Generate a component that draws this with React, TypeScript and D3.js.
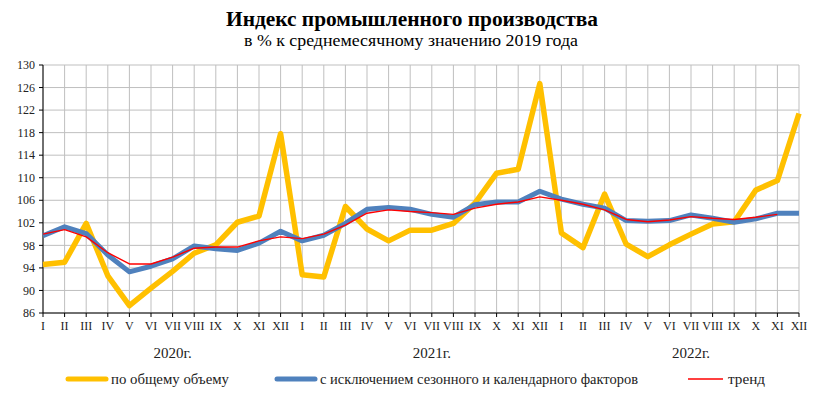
import React from "react";
import * as d3 from "d3";

const months = ["I","II","III","IV","V","VI","VII","VIII","IX","X","XI","XII"];
const years = ["2020г.", "2021г.", "2022г."];
const yTicks = [86, 90, 94, 98, 102, 106, 110, 114, 118, 122, 126, 130];

const totalVolume = [
  94.6, 95.0, 101.9, 92.6, 87.3, 90.4, 93.4, 96.6, 98.1, 102.1, 103.2, 117.8,
  92.8, 92.4, 104.9, 100.9, 98.8, 100.7, 100.7, 101.9, 105.5, 110.8, 111.5, 126.7,
  100.2, 97.6, 107.1, 98.2, 96.0, 98.1, 100.0, 101.8, 102.2, 107.8, 109.5, 121.4,
];
const seasonallyAdjusted = [
  99.7, 101.3, 100.1, 96.3, 93.3, 94.3, 95.6, 97.9, 97.4, 97.1, 98.4, 100.5,
  98.8, 99.8, 101.9, 104.4, 104.7, 104.4, 103.5, 103.0, 105.2, 105.7, 105.7, 107.6,
  106.2, 105.3, 104.6, 102.4, 102.3, 102.4, 103.4, 102.8, 102.1, 102.7, 103.7, 103.7,
];
const trend = [
  100.0, 100.8, 99.5, 96.7, 94.7, 94.7, 95.9, 97.5, 97.7, 97.7, 98.8, 99.5,
  99.2, 100.0, 101.6, 103.7, 104.3, 104.0, 103.8, 103.5, 104.6, 105.3, 105.7, 106.6,
  106.0, 105.3, 104.3, 102.6, 102.2, 102.5, 103.1, 102.8, 102.6, 103.0, 103.5,
];

const seriesLegend = [
  { label: "по общему объему", color: "#FFC000", width: 5 },
  { label: "с исключением сезонного и календарного факторов", color: "#4F81BD", width: 5 },
  { label: "тренд", color: "#FF0000", width: 1.5 },
];

const FONT = "'Liberation Serif', 'Times New Roman', serif";

export default function App() {
  const W = 822, H = 397;
  const left = 43, right = 799, top = 65, bottom = 313;
  const n = months.length * years.length;
  const idx = d3.range(n);
  const x = d3.scaleLinear().domain([0, n - 1]).range([left, right]);
  const y = d3.scaleLinear().domain([86, 130]).range([bottom, top]);
  const line = d3.line<number>().x((_, i) => x(i)).y((d) => y(d));

  const gridColor = "#BFBFBF";
  const legendX = [68, 277, 688];
  const legendLen = [38, 38, 35];
  const legendTextLen = [118, 318, 37];
  const legendY = 379;

  return (
    <svg width={W} height={H} style={{ position: "absolute", left: 0, top: 0, background: "#fff" }}>
      <rect x={0} y={0} width={W} height={H} fill="#fff" />
      <text x={412} y={26} textAnchor="middle" fontFamily={FONT} fontWeight="bold" fontSize={22}
        textLength={372} lengthAdjust="spacingAndGlyphs">Индекс промышленного производства</text>
      <text x={411} y={46} textAnchor="middle" fontFamily={FONT} fontSize={16.5}
        textLength={334} lengthAdjust="spacingAndGlyphs">в % к среднемесячному значению 2019 года</text>

      {/* grid */}
      {yTicks.map((t) => (
        <line key={"gy" + t} x1={left} x2={right} y1={y(t)} y2={y(t)} stroke={gridColor} strokeWidth={1} />
      ))}
      {idx.map((i) => (
        <line key={"gx" + i} x1={x(i)} x2={x(i)} y1={top} y2={bottom} stroke={gridColor} strokeWidth={1} />
      ))}

      {/* axes */}
      <line x1={left} x2={left} y1={top} y2={bottom} stroke="#000" strokeWidth={1} />
      <line x1={left} x2={right} y1={bottom} y2={bottom} stroke="#000" strokeWidth={1} />
      {yTicks.map((t) => (
        <g key={"ty" + t}>
          <line x1={left - 4} x2={left} y1={y(t)} y2={y(t)} stroke="#000" />
          <text x={35} y={y(t)} dy="0.35em" textAnchor="end" fontFamily={FONT} fontSize={12} fill="#222">{t}</text>
        </g>
      ))}
      {idx.map((i) => (
        <g key={"tx" + i}>
          <line x1={x(i)} x2={x(i)} y1={bottom} y2={bottom + 4} stroke="#000" />
          <text x={x(i)} y={330} textAnchor="middle" fontFamily={FONT} fontSize={12} fill="#222">{months[i % 12]}</text>
        </g>
      ))}
      {years.map((yr, k) => (
        <text key={yr} x={x(k * 12 + 6)} y={358} textAnchor="middle" fontFamily={FONT} fontSize={15} fill="#222">{yr}</text>
      ))}

      {/* series */}
      <path d={line(totalVolume) || ""} fill="none" stroke="#FFC000" strokeWidth={5.5} strokeLinejoin="round" />
      <path d={line(seasonallyAdjusted) || ""} fill="none" stroke="#4F81BD" strokeWidth={5} strokeLinejoin="round" />
      <path d={line(trend) || ""} fill="none" stroke="#FF0000" strokeWidth={1.4} strokeLinejoin="round" />

      {/* legend */}
      {seriesLegend.map((s, k) => (
        <g key={s.label}>
          <line x1={legendX[k]} x2={legendX[k] + legendLen[k]} y1={legendY} y2={legendY}
            stroke={s.color} strokeWidth={s.width} strokeLinecap={s.width > 2 ? "round" : "butt"} />
          <text x={legendX[k] + legendLen[k] + 5} y={legendY} dy="0.35em" fontFamily={FONT} fontSize={14.5} fill="#222"
            textLength={legendTextLen[k]} lengthAdjust="spacingAndGlyphs">{s.label}</text>
        </g>
      ))}
    </svg>
  );
}
